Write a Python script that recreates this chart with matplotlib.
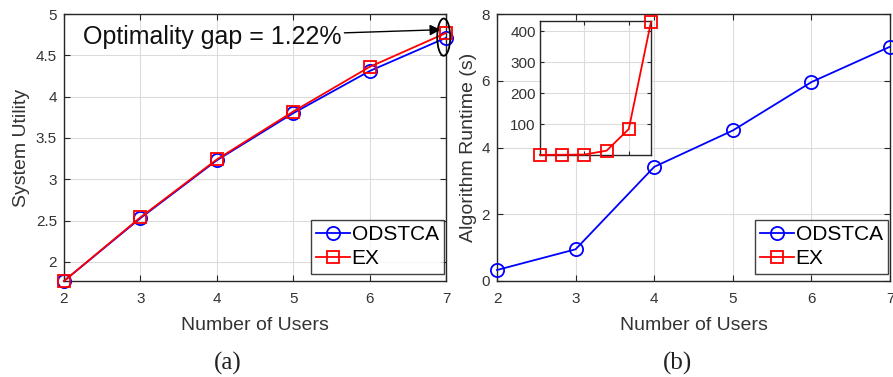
import matplotlib
matplotlib.use("Agg")
import matplotlib.pyplot as plt
from matplotlib.patches import Ellipse

plt.rcParams['font.family'] = ['Liberation Sans', 'DejaVu Sans']

users = [2, 3, 4, 5, 6, 7]
util_odstca = [1.77, 2.53, 3.23, 3.80, 4.31, 4.712]
util_ex = [1.77, 2.54, 3.24, 3.82, 4.36, 4.77]
runtime_odstca = [0.33, 0.95, 3.42, 4.51, 5.96, 7.02]
runtime_ex = [0.5, 0.8, 1.5, 14, 84, 431]
gap_text = 'Optimality gap = 1.22%'

BLUE = '#0000ff'
RED = '#ff0000'
FRAME = '#262626'
GRID = '#dcdcdc'

fig = plt.figure(figsize=(8.93, 3.77), dpi=100)
W, H = 893, 377

def px_axes(l, r, t, b):
    return fig.add_axes([l / W, 1 - b / H, (r - l) / W, (b - t) / H])

def style(ax, fs=11):
    ax.tick_params(direction='in', top=True, right=True, length=4, width=0.8,
                   colors=FRAME, labelcolor='#333333', labelsize=fs)
    ax.tick_params(axis='x', pad=8)
    ax.tick_params(axis='y', pad=5)
    for s in ax.spines.values():
        s.set_color(FRAME)
        s.set_linewidth(1.0)
    ax.grid(True, color=GRID, lw=0.8)
    ax.set_axisbelow(True)

lw = 1.3
ms = 9.5

# ---- panel (a)
ax1 = px_axes(64, 446, 14, 281)
ax1.plot(users, util_odstca, '-o', color=BLUE, lw=lw, ms=ms, mfc='none', mew=1.3,
         label='ODSTCA', clip_on=False, zorder=3)
ax1.plot(users, util_ex, '-s', color=RED, lw=lw, ms=ms - 1, mfc='none', mew=1.3,
         label='EX', clip_on=False, zorder=4)
ax1.set_xlim(2, 7)
ax1.set_ylim(1.77, 5)
ax1.set_xticks(users)
ax1.set_yticks([2, 2.5, 3, 3.5, 4, 4.5, 5])
ax1.set_yticklabels(['2', '2.5', '3', '3.5', '4', '4.5', '5'])
style(ax1)
ax1.set_xlabel('Number of Users', fontsize=14, color='#333333', labelpad=8)
ax1.set_ylabel('System Utility', fontsize=14, color='#333333', labelpad=4)
leg1 = ax1.legend(loc='lower right', bbox_to_anchor=(1.0, 0.02), fontsize=15,
                  frameon=True, fancybox=False, edgecolor='#111111',
                  handlelength=1.6, handletextpad=0.1, borderpad=0.25,
                  labelspacing=0.25, borderaxespad=0.1)
leg1.get_frame().set_linewidth(1.0)
ax1.annotate(gap_text, xy=(6.93, 4.81), xytext=(2.25, 4.72), ha='left', va='center',
             fontsize=18, color='#111111',
             arrowprops=dict(arrowstyle='-|>', color='k', lw=1.0, mutation_scale=16,
                             shrinkA=0, shrinkB=0))
ax1.add_patch(Ellipse((6.97, 4.72), 0.17, 0.45, fill=False, ec='k', lw=1.3,
                      clip_on=False, zorder=5))

# ---- panel (b)
ax2 = px_axes(497, 890, 14, 281)
ax2.plot(users, runtime_odstca, '-o', color=BLUE, lw=lw, ms=ms, mfc='none', mew=1.3,
         label='ODSTCA', clip_on=False, zorder=3)
ax2.plot([], [], '-s', color=RED, lw=lw, ms=ms - 1, mfc='none', mew=1.3, label='EX')
ax2.set_xlim(2, 7)
ax2.set_ylim(0, 8)
ax2.set_xticks(users)
ax2.set_yticks([0, 2, 4, 6, 8])
style(ax2)
ax2.set_xlabel('Number of Users', fontsize=14, color='#333333', labelpad=8)
ax2.set_ylabel('Algorithm Runtime (s)', fontsize=14, color='#333333', labelpad=3)
leg2 = ax2.legend(loc='lower right', bbox_to_anchor=(1.0, 0.02), fontsize=15,
                  frameon=True, fancybox=False, edgecolor='#111111',
                  handlelength=1.6, handletextpad=0.1, borderpad=0.25,
                  labelspacing=0.25, borderaxespad=0.1)
leg2.get_frame().set_linewidth(1.0)

# inset
ax3 = px_axes(540, 651, 20.5, 155)
ax3.plot(users, runtime_ex, '-s', color=RED, lw=lw, ms=ms - 1, mfc='none', mew=1.3,
         clip_on=False, zorder=4)
ax3.set_xlim(2, 7)
ax3.set_ylim(0, 435)
ax3.set_xticks([2, 4, 6])
ax3.set_xticklabels([])
ax3.set_yticks([100, 200, 300, 400])
style(ax3, fs=11)
ax3.tick_params(length=3)
ax3.tick_params(axis='y', pad=3)

fig.text(228 / W, 1 - 352 / H, '(a)', ha='center', va='top', fontsize=18,
         family=['Liberation Serif', 'DejaVu Serif'], color='#222222')
fig.text(677 / W, 1 - 352 / H, '(b)', ha='center', va='top', fontsize=18,
         family=['Liberation Serif', 'DejaVu Serif'], color='#222222')

fig.savefig('out.png', dpi=100)
